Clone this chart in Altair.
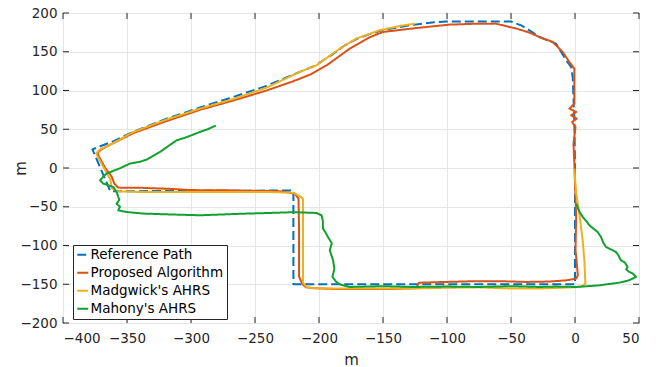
import altair as alt
import pandas as pd

# ---------------- data ----------------
names = ["Reference Path", "Proposed Algorithm", "Madgwick's AHRS", "Mahony's AHRS"]
colors = ["#0072BD", "#D95319", "#EDB120", "#12A02F"]

ref_x = [0, 0, -220, -220, -363, -377, -360, -345, -320, -293, -270, -241, -215, -203, -190,
         -180, -170, -160, -150, -130, -110, -100, -50, -42, -35.6, -27.8, -14.8, -6.9, -3, -1.8,
         -0.5, 0]
ref_y = [0, -150, -150, -29, -30, 24, 35, 47, 63, 78, 90, 106, 124, 132, 146,
         158, 167, 173, 178, 184, 188, 189, 189, 184, 177.7, 169, 160.5, 139, 130.3, 117.4,
         60, 0]

red_x = [-0.5, 0, 0.9, 0.4, 1.5, 2.2, 0.9, -6.9, -20, -37.8, -60, -77, -100, -122, -124, -140,
         -160, -190, -205, -210, -213, -215.6, -215.6, -216, -219, -230, -250, -272, -300, -315,
         -340, -357, -360, -362, -367, -372, -373, -370, -362, -345, -320, -293, -265, -241,
         -220, -207, -194, -176, -160, -150, -124, -98, -80, -62, -46, -36, -27.8, -17.4, -9.6,
         -4.4, -0.5, -0.5, -0.5, -4.4, 0.9, -3, 1.3, -2.3, 0.4, -1.2, -0.5]
red_y = [5.7, -20, -63, -106, -125, -138.5, -142.7, -145, -146.5, -147, -146, -146, -147, -148,
         -155, -156, -156, -156, -155, -154, -150, -140, -80, -39.5, -33, -30, -29.5, -28.8,
         -28.5, -27, -25.5, -25.3, -20, -11, 0, 15, 20, 24, 31, 45, 60, 75, 88, 100,
         112, 120.5, 132.5, 154, 169, 175.5, 180.6, 185, 186, 186.3, 180, 175, 169, 162.6,
         149.7, 136.8, 128.3, 100, 83, 76.6, 72.3, 68, 63.7, 59.4, 52.9, 31.5, 5.7]

yel_x = [-0.5, 0.9, 3.4, 6, 7.3, 8.1, 6, 3.4, -10, -27.8, -50, -75, -100, -126, -160, -190,
         -205, -209.8, -212.5, -212.5, -213.8, -220, -238.5, -270, -300, -340, -358, -362,
         -363, -368, -373, -374, -371, -362, -345, -320, -293, -265, -241, -215, -202, -183.8,
         -170.8, -152.6, -137, -125.3]
yel_y = [-0.8, -33, -58.8, -93.3, -119, -149.2, -152, -153.5, -154.5, -155.5, -155.5, -154,
         -154.5, -155.5, -155.6, -155.6, -155, -153.5, -148, -40, -37.4, -32, -31, -31, -31,
         -31, -30, -26, -15, 0, 15, 19, 24, 31, 46.5, 62, 76.6, 90, 103.7, 124, 132.5, 154,
         167, 177.7, 183.2, 186.3]

grn_x = [1, 3, 6, 9, 11.3, 15, 17.7, 20.3, 22, 24.2, 28, 32, 34, 35.9, 39, 41.1, 40, 42.5, 45,
         47.7, 42, 34.7, 25, 19, 10, 0.9, -15, -27.8, -50, -75, -100, -126.6, -150, -176, -183,
         -186.4, -189.5, -188, -189, -191.6, -190, -193, -195, -196.9, -197, -198.1, -202,
         -220, -238.5, -260, -293, -315, -337.3, -350.3, -356.8, -355.5, -358.1, -356, -356.8,
         -358.1, -360.7, -368.6, -371.1, -368, -365.9, -355, -347.7, -340, -334.7, -324.3,
         -318, -311.3, -303, -293.1, -287, -280.6]
grn_y = [-46, -55, -63, -69, -74, -79, -82.6, -89, -96, -101.9, -105, -108.4, -113, -119.1,
         -122, -127.7, -131, -134.2, -136, -140.6, -145, -147.9, -150, -151.4, -152.5, -153.5,
         -153, -153.5, -152.5, -153.5, -153, -153.5, -152.5, -153.5, -150.5, -147.1, -140.6,
         -130, -119.1, -106.2, -97, -89, -83, -78.2, -68, -61, -58, -57, -58, -59, -61, -60,
         -58.8, -56.8, -54.6, -50, -46, -41, -37.4, -31, -24.5, -20.1, -15.9, -10, -7.2, 0,
         5.7, 8, 10.8, 20.6, 28, 35.7, 40, 46.5, 50, 54.7]

x_ticks = [-400, -350, -300, -250, -200, -150, -100, -50, 0, 50]
y_ticks = [-200, -150, -100, -50, 0, 50, 100, 150, 200]

# ---------------- chart ----------------
W, H = 576, 310
FONT = "DejaVu Sans"
INK = "#262626"

series = [(names[0], ref_x, ref_y), (names[1], red_x, red_y),
          (names[2], yel_x, yel_y), (names[3], grn_x, grn_y)]

xscale = alt.Scale(domain=[-400, 50], nice=False, zero=False)
yscale = alt.Scale(domain=[-200, 200], nice=False, zero=False)

x_axis = alt.Axis(values=x_ticks, title="m", grid=True, ticks=False, domain=False,
                  labelPadding=8, titleX=W / 2, titleY=36, titleBaseline="middle",
                  titleAlign="center")
y_axis = alt.Axis(values=y_ticks, title="m", grid=True, ticks=False, domain=False,
                  labelPadding=6, titleX=-43, titleY=H / 2, titleBaseline="middle",
                  titleAlign="center")

legend = alt.Legend(title=None, orient="none", legendX=10, legendY=232,
                    symbolType="stroke", symbolSize=121, symbolStrokeWidth=2,
                    labelFont=FONT, labelFontSize=13.5, labelColor="#000000",
                    labelOffset=1, rowPadding=3, padding=3,
                    strokeColor=INK, fillColor="white", cornerRadius=0)

color = alt.Color("series:N", scale=alt.Scale(domain=names, range=colors), legend=legend)
dash = alt.StrokeDash("series:N",
                      scale=alt.Scale(domain=names, range=[[9, 4], [1, 0], [1, 0], [1, 0]]),
                      legend=legend)

layers = []
for name, xs, ys in series:
    df = pd.DataFrame({"x": xs, "y": ys, "i": list(range(len(xs))), "series": name})
    layers.append(
        alt.Chart(df).mark_line(strokeWidth=2, strokeJoin="round").encode(
            x=alt.X("x:Q", scale=xscale, axis=x_axis),
            y=alt.Y("y:Q", scale=yscale, axis=y_axis),
            order=alt.Order("i:Q"),
            color=color,
            strokeDash=dash,
        )
    )

# inward tick marks on all four sides (MATLAB style box)
xt = pd.DataFrame({"x": x_ticks})
yt = pd.DataFrame({"y": y_ticks})
tick_len = 6
ticks = [
    alt.Chart(xt).mark_rule(color=INK, strokeWidth=1).encode(
        x=alt.X("x:Q", scale=xscale, axis=x_axis), y=alt.value(H), y2=alt.value(H - tick_len)),
    alt.Chart(xt).mark_rule(color=INK, strokeWidth=1).encode(
        x=alt.X("x:Q", scale=xscale, axis=x_axis), y=alt.value(0), y2=alt.value(tick_len)),
    alt.Chart(yt).mark_rule(color=INK, strokeWidth=1).encode(
        y=alt.Y("y:Q", scale=yscale, axis=y_axis), x=alt.value(0), x2=alt.value(tick_len)),
    alt.Chart(yt).mark_rule(color=INK, strokeWidth=1).encode(
        y=alt.Y("y:Q", scale=yscale, axis=y_axis), x=alt.value(W), x2=alt.value(W - tick_len)),
]

chart = alt.layer(*layers, *ticks).properties(
    width=W, height=H,
    background="white",
    autosize=alt.AutoSizeParams(type="none"),
    padding={"left": 63, "top": 13, "right": 23, "bottom": 44},
).configure_view(
    stroke=INK, strokeWidth=1
).configure_axis(
    labelFont=FONT, labelFontSize=13.5, labelColor=INK,
    titleFont=FONT, titleFontSize=15, titleFontWeight="normal", titleColor=INK,
    gridColor="#e6e6e6", gridWidth=1,
)

chart.save("out.html", embed_options={"renderer": "svg", "actions": False})
